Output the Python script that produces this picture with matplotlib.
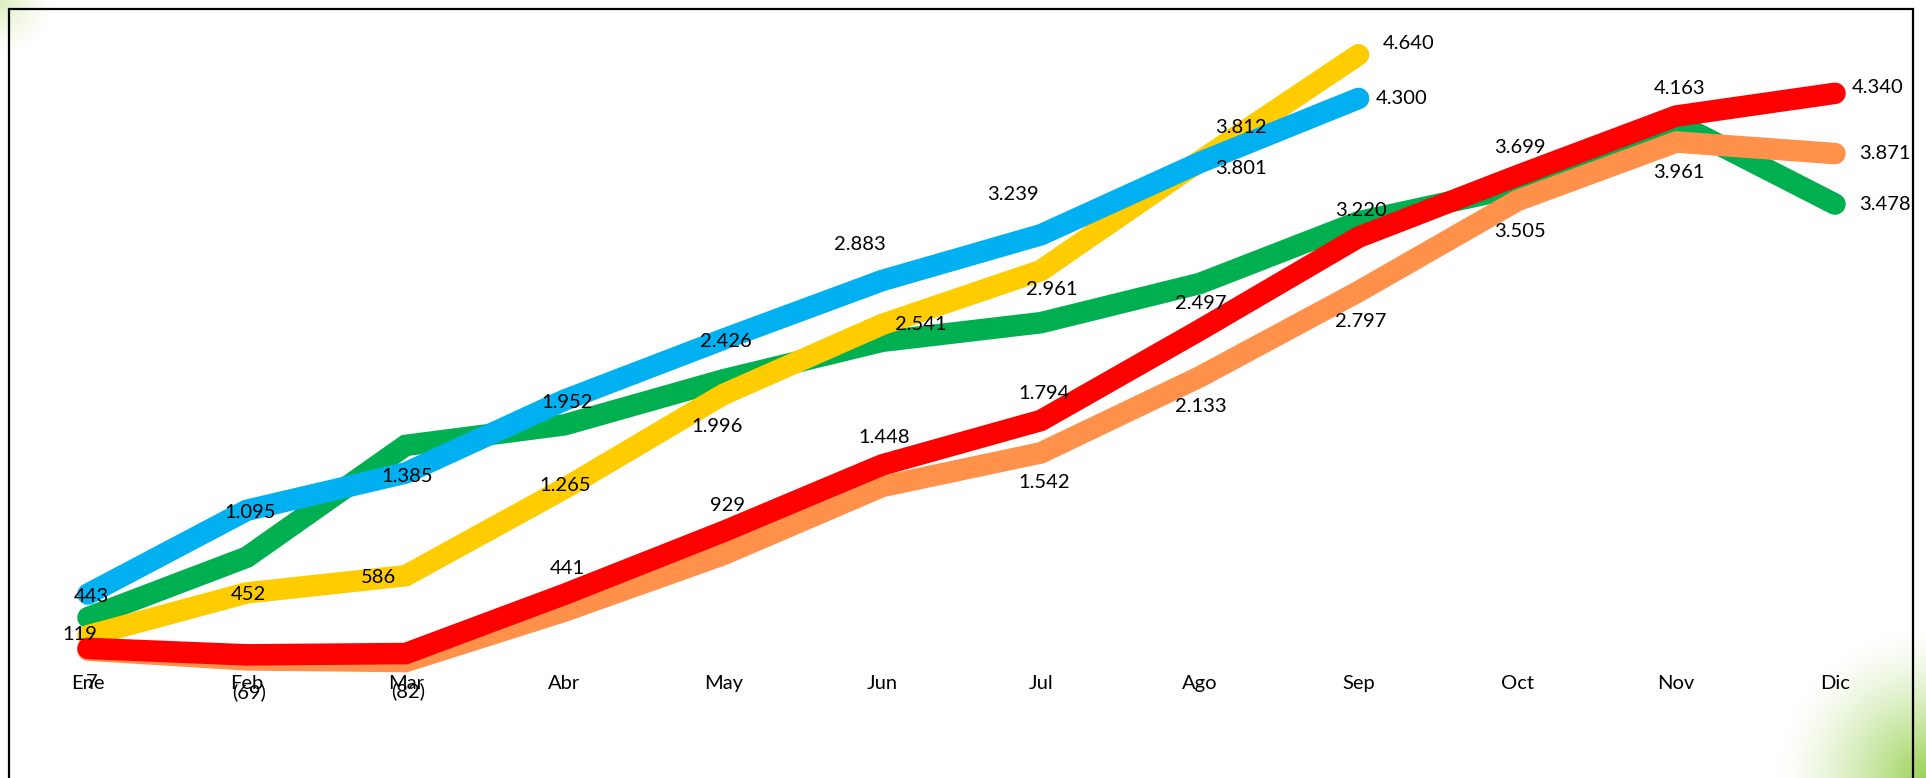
import numpy as np
import matplotlib
matplotlib.use("Agg")
import matplotlib.pyplot as plt
from matplotlib.patches import Rectangle

plt.rcParams['font.family'] = ['Lato', 'DejaVu Sans']

# data
months = ['Ene', 'Feb', 'Mar', 'Abr', 'May', 'Jun', 'Jul', 'Ago', 'Sep', 'Oct', 'Nov', 'Dic']
blue = [443, 1095, 1385, 1952, 2426, 2883, 3239, 3801, 4300]
yellow = [119, 452, 586, 1265, 1996, 2541, 2961, 3812, 4640]
green = [260, 730, 1600, 1760, 2110, 2410, 2555, 2860, 3340, 3610, 4110, 3478]
red = [20, -30, -20, 441, 929, 1448, 1794, 2497, 3220, 3699, 4163, 4340]
orange = [7, -69, -82, 310, 750, 1280, 1542, 2133, 2797, 3505, 3961, 3871]

# label offsets in pixels (dx, dy[, ha]); None = no label
blue_lbl = [(3, -2), (3, -2), (2, -3), (3, -2), (3, -2), (-22, 36), (-28, 40), (41, -6), (17, 0, 'left')]
yellow_lbl = [(-8, 1), (2, -2), (-27, -2), (1, 3), (-6, -32), (39, 0), (11, -19), (41, 34), (24, 11, 'left')]
green_lbl = [None] * 11 + [(24, 0, 'left')]
red_lbl = [None, None, None, (3, 26), (4, 26), (2, 27), (3, 27), (1, 27), (2, 27), (3, 28), (3, 28), (17, 6, 'left')]
orange_lbl = [(4, -32), (2, -32), (2, -30), None, None, None, (3, -30), (1, -30), (2, -30), (3, -31), (3, -30), (24, 0, 'left')]

FS = 14.5


def fmt(v):
    s = f"{abs(v):,}".replace(",", ".")
    return f"({s})" if v < 0 else s


W, H = 1926, 778
fig = plt.figure(figsize=(W / 100, H / 100), dpi=100)

# background with the green corner glows
bg = fig.add_axes([0, 0, 1, 1], zorder=-5)
yy, xx = np.mgrid[0:H, 0:W]
img = np.ones((H, W, 3))
a1 = np.clip(1 - np.hypot(xx, yy) / 55, 0, 1) ** 1.3 * 0.45
a2 = np.clip(1 - np.hypot(W - xx, H - yy) / 150, 0, 1) ** 1.4 * 0.9
for a, c in [(a1, (0.70, 0.86, 0.45)), (a2, (0.55, 0.80, 0.25))]:
    img = img * (1 - a[..., None]) + np.array(c) * a[..., None]
bg.imshow(img, aspect='auto', extent=[0, 1, 0, 1])
bg.axis('off')

ax = fig.add_axes([0, 0, 1, 1])
ax.set_facecolor('none')

series = [
    (green, '#00B050', green_lbl),
    (yellow, '#FFCC00', yellow_lbl),
    (blue, '#00B0F0', blue_lbl),
    (orange, '#FF914A', orange_lbl),
    (red, '#FF0000', red_lbl),
]

for vals, col, lbls in series:
    x = np.arange(len(vals))
    ax.plot(x, vals, color=col, lw=15.5, solid_capstyle='round', solid_joinstyle='miter')

for vals, col, lbls in series:
    for i, (v, l) in enumerate(zip(vals, lbls)):
        if l is None:
            continue
        ha = l[2] if len(l) > 2 else 'center'
        ax.annotate(fmt(v), (i, v), xytext=(l[0], l[1]), textcoords='offset pixels',
                    ha=ha, va='center', fontsize=FS, color='black', zorder=10)

# pixel placement: Ene at x=88, Dic at x=1835, zero at y=651 from top
px_per_cat = (1835 - 88) / 11
ax.set_xlim(-88 / px_per_cat, 11 + (W - 1835) / px_per_cat)
k = 0.1285
ax.set_ylim(-(H - 651) / k, 651 / k)

ax.spines['bottom'].set_position(('data', 0))
for s in ax.spines.values():
    s.set_visible(False)
ax.set_xticks(range(len(months)))
ax.set_xticklabels(months)
ax.set_yticks([])
ax.tick_params(axis='x', length=0, pad=17, labelsize=FS)

# chart frame
fig.add_artist(Rectangle((9 / W, -0.1), (1913 - 9) / W, 1.1 - 9 / H, transform=fig.transFigure,
                         fill=False, ec='black', lw=1.6))

fig.savefig('out.png', dpi=100)
